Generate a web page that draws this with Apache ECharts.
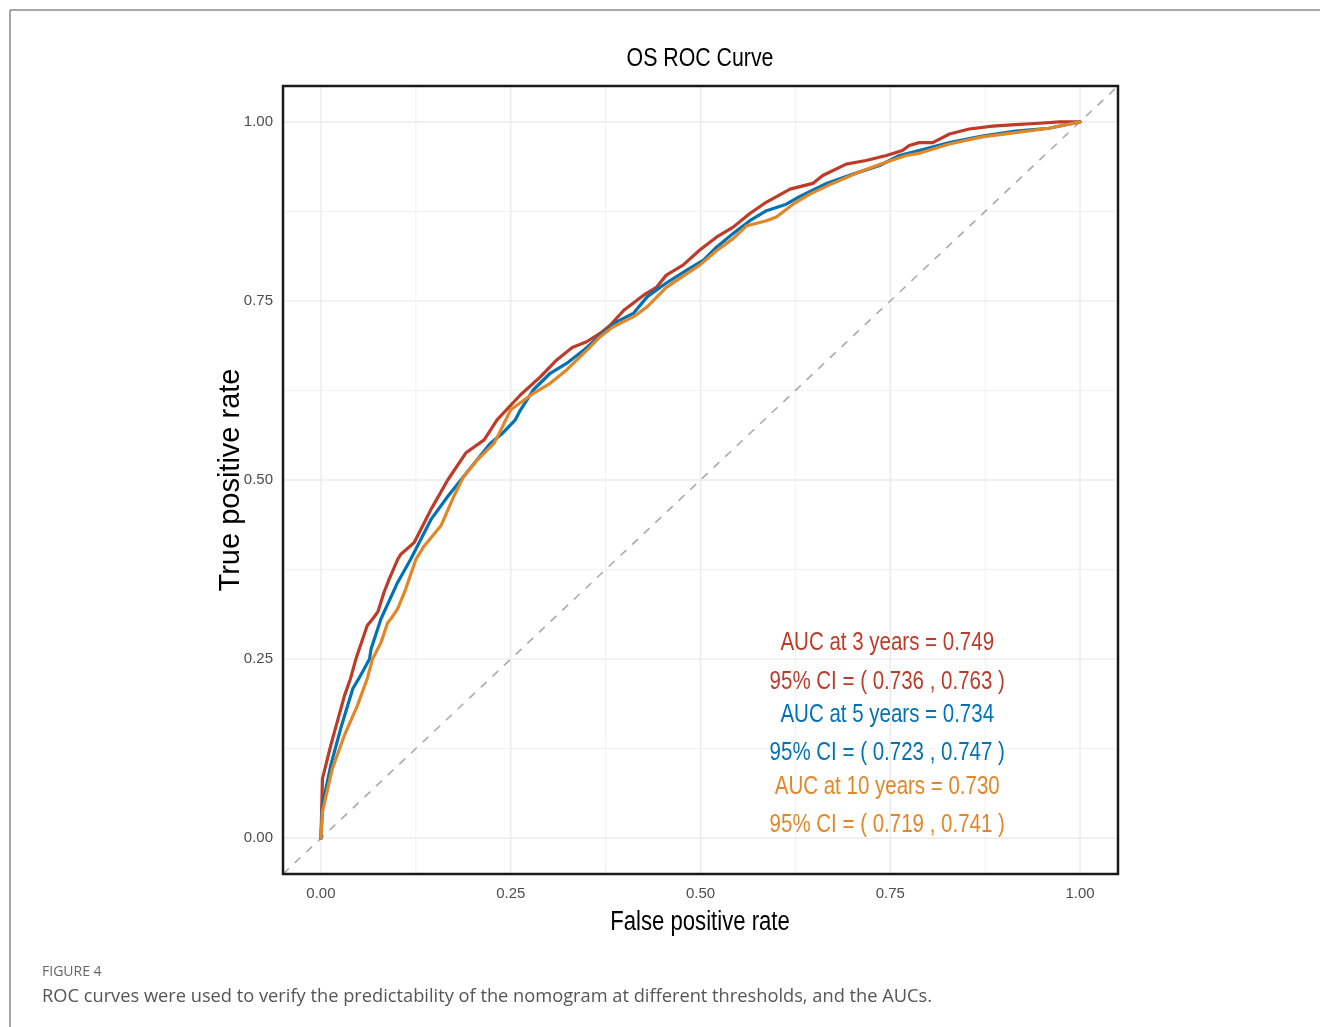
<!DOCTYPE html>
<html>
<head>
<meta charset="utf-8">
<script src="https://cdn.jsdelivr.net/npm/echarts@6/dist/echarts.min.js"></script>
<style>
  html, body { margin: 0; padding: 0; background: #fff; }
  #chart { width: 1320px; height: 1027px; }
</style>
</head>
<body>
<div id="chart"></div>
<script>
// ROC points (false positive rate / true positive rate)
const fpr3 = [0, 0.002, 0.013, 0.031, 0.039, 0.046, 0.061, 0.068, 0.075, 0.083, 0.090, 0.101, 0.105, 0.123, 0.145, 0.167, 0.191, 0.215, 0.232, 0.263, 0.289, 0.311, 0.331, 0.350, 0.368, 0.381, 0.399, 0.425, 0.442, 0.455, 0.477, 0.499, 0.521, 0.543, 0.565, 0.587, 0.618, 0.648, 0.661, 0.692, 0.718, 0.745, 0.766, 0.775, 0.788, 0.806, 0.828, 0.854, 0.885, 0.915, 0.946, 0.973, 1]
const tpr3 = [0, 0.083, 0.130, 0.199, 0.223, 0.250, 0.297, 0.306, 0.316, 0.343, 0.362, 0.389, 0.396, 0.413, 0.459, 0.500, 0.538, 0.556, 0.584, 0.619, 0.644, 0.668, 0.685, 0.693, 0.705, 0.716, 0.737, 0.758, 0.769, 0.786, 0.800, 0.821, 0.839, 0.853, 0.872, 0.888, 0.906, 0.914, 0.925, 0.941, 0.946, 0.953, 0.960, 0.967, 0.971, 0.971, 0.983, 0.990, 0.994, 0.996, 0.998, 1.0, 1]

const fpr5 = [0, 0.002, 0.013, 0.026, 0.042, 0.050, 0.064, 0.066, 0.079, 0.101, 0.118, 0.145, 0.167, 0.188, 0.223, 0.240, 0.256, 0.263, 0.280, 0.302, 0.324, 0.346, 0.368, 0.390, 0.412, 0.430, 0.455, 0.482, 0.504, 0.521, 0.543, 0.565, 0.587, 0.613, 0.631, 0.666, 0.701, 0.736, 0.762, 0.788, 0.828, 0.871, 0.915, 0.959, 1]
const tpr5 = [0, 0.046, 0.102, 0.153, 0.209, 0.223, 0.250, 0.264, 0.306, 0.357, 0.389, 0.445, 0.477, 0.505, 0.551, 0.566, 0.584, 0.598, 0.626, 0.649, 0.663, 0.681, 0.702, 0.721, 0.733, 0.756, 0.775, 0.793, 0.807, 0.825, 0.844, 0.862, 0.876, 0.885, 0.896, 0.914, 0.927, 0.939, 0.953, 0.960, 0.971, 0.980, 0.987, 0.991, 1]

const fpr10 = [0, 0.002, 0.015, 0.031, 0.048, 0.061, 0.068, 0.079, 0.088, 0.092, 0.101, 0.110, 0.125, 0.136, 0.158, 0.175, 0.188, 0.206, 0.228, 0.237, 0.250, 0.280, 0.302, 0.324, 0.350, 0.368, 0.385, 0.412, 0.430, 0.455, 0.482, 0.499, 0.521, 0.543, 0.561, 0.587, 0.600, 0.622, 0.644, 0.674, 0.709, 0.745, 0.771, 0.788, 0.828, 0.871, 0.915, 0.959, 1]
const tpr10 = [0, 0.037, 0.097, 0.144, 0.185, 0.223, 0.250, 0.273, 0.301, 0.306, 0.320, 0.343, 0.389, 0.408, 0.436, 0.477, 0.505, 0.528, 0.551, 0.570, 0.598, 0.621, 0.635, 0.654, 0.681, 0.700, 0.714, 0.728, 0.742, 0.769, 0.788, 0.800, 0.820, 0.837, 0.855, 0.862, 0.867, 0.885, 0.899, 0.914, 0.930, 0.944, 0.953, 0.956, 0.969, 0.979, 0.985, 0.991, 1]

const seriesNames = ['3 years', '5 years', '10 years']
const colors = ['#BC3C29', '#0072B5', '#E18727']
const tickValues = [0, 0.25, 0.5, 0.75, 1]
const minorValues = [0.125, 0.375, 0.625, 0.875]
const axisRange = [-0.05, 1.05]

const aucLines = [
  'AUC at 3 years = 0.749',
  '95% CI = ( 0.736 , 0.763 )',
  'AUC at 5 years = 0.734',
  '95% CI = ( 0.723 , 0.747 )',
  'AUC at 10 years = 0.730',
  '95% CI = ( 0.719 , 0.741 )'
]
const aucColorIdx = [0, 0, 1, 1, 2, 2]
const aucX = 0.746
const aucY = [0.272, 0.2175, 0.172, 0.119, 0.0715, 0.0186]

// no narrow font installed, so squeeze the regular one
const SANS = '"Liberation Sans", Arial, sans-serif'
const SQUEEZE = 0.82

const zip = (xs, ys) => xs.map((x, i) => [x, ys[i]])

// background grid as plain line series so it stays under the curves
const gridSeries = []
const addGridLine = (v, width) => {
  const style = { color: '#ebebeb', width: width }
  gridSeries.push({ type: 'line', data: [[v, axisRange[0]], [v, axisRange[1]]], showSymbol: false, silent: true, z: 1, lineStyle: style })
  gridSeries.push({ type: 'line', data: [[axisRange[0], v], [axisRange[1], v]], showSymbol: false, silent: true, z: 1, lineStyle: style })
}
tickValues.forEach((v) => addGridLine(v, 1.4))
minorValues.forEach((v) => addGridLine(v, 0.7))

const axisLabel = {
  customValues: tickValues,
  formatter: (v) => v.toFixed(2),
  color: '#4d4d4d',
  fontSize: 15,
  fontFamily: SANS
}

const option = {
  animation: false,
  grid: {
    left: 283,
    right: 202,
    top: 86,
    bottom: 153,
    show: true,
    borderColor: '#1a1a1a',
    borderWidth: 2.5,
    z: 10
  },
  xAxis: {
    type: 'value',
    min: axisRange[0],
    max: axisRange[1],
    axisLine: { show: false },
    axisTick: { show: false },
    splitLine: { show: false },
    axisLabel: { ...axisLabel, margin: 12 }
  },
  yAxis: {
    type: 'value',
    min: axisRange[0],
    max: axisRange[1],
    axisLine: { show: false },
    axisTick: { show: false },
    splitLine: { show: false },
    axisLabel: { ...axisLabel, margin: 10 }
  },
  series: [
    ...gridSeries,
    {
      name: 'reference',
      type: 'line',
      data: [[axisRange[0], axisRange[0]], [axisRange[1], axisRange[1]]],
      showSymbol: false,
      silent: true,
      z: 2,
      lineStyle: { color: '#aaaaaa', width: 1.6, type: [8, 8] }
    },
    ...[[fpr3, tpr3], [fpr5, tpr5], [fpr10, tpr10]].map(([f, t], i) => ({
      name: seriesNames[i],
      type: 'line',
      data: zip(f, t),
      showSymbol: false,
      z: 3 + i,
      lineStyle: { color: colors[i], width: 3.2, join: 'round', cap: 'round' },
      itemStyle: { color: colors[i] }
    }))
  ]
}

const myChart = echarts.init(document.getElementById('chart'))
myChart.setOption(option)

const narrowText = (txt, x, y, size, color) => ({
  type: 'text',
  x: x,
  y: y,
  scaleX: SQUEEZE,
  z: 20,
  style: {
    text: txt,
    align: 'center',
    verticalAlign: 'middle',
    fill: color,
    font: size + 'px ' + SANS
  }
})

const aucText = aucLines.map((txt, i) => {
  const [px, py] = myChart.convertToPixel({ gridIndex: 0 }, [aucX, aucY[i]])
  return narrowText(txt, px, py, 25, colors[aucColorIdx[i]])
})

myChart.setOption({
  graphic: [
    narrowText('OS ROC Curve', 700, 59, 26, '#000'),
    narrowText('False positive rate', 700, 923, 27, '#000'),
    {
      type: 'text', x: 231, y: 480, rotation: Math.PI / 2, z: 20,
      style: { text: 'True positive rate', align: 'center', verticalAlign: 'middle', fill: '#000', font: '29px ' + SANS }
    },
    ...aucText,
    { type: 'line', shape: { x1: 10, y1: 10, x2: 1320, y2: 10 }, style: { stroke: '#8a8a8a', lineWidth: 1.5 } },
    { type: 'line', shape: { x1: 10, y1: 10, x2: 10, y2: 1027 }, style: { stroke: '#8a8a8a', lineWidth: 1.5 } },
    {
      type: 'text', x: 42, y: 972,
      style: { text: 'FIGURE 4', fill: '#666', font: '14px "Open Sans", sans-serif', verticalAlign: 'middle' }
    },
    {
      type: 'text', x: 42, y: 997,
      style: {
        text: 'ROC curves were used to verify the predictability of the nomogram at different thresholds, and the AUCs.',
        fill: '#555', font: '18.25px "Open Sans", sans-serif', verticalAlign: 'middle'
      }
    }
  ]
})
</script>
</body>
</html>
